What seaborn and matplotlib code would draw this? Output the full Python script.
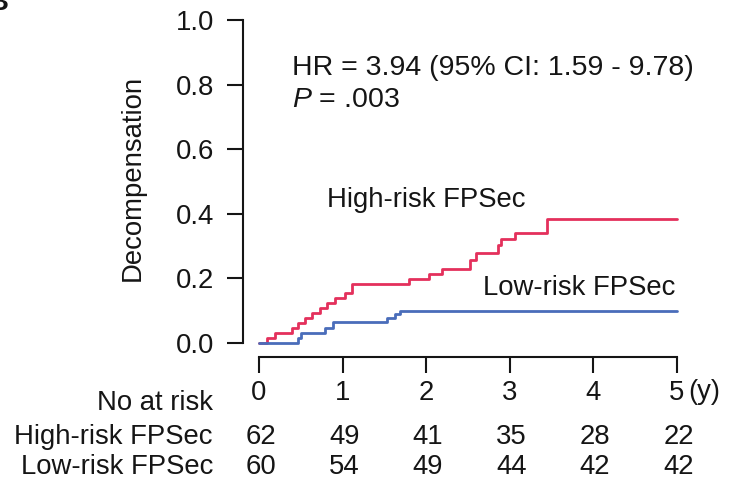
import numpy as np
import pandas as pd
import seaborn as sns
import matplotlib.pyplot as plt
from matplotlib import transforms

# cumulative decompensation (time in years)
high_t = [0, 0.09, 0.19, 0.39, 0.47, 0.55, 0.63, 0.73, 0.81, 0.91, 1.03, 1.11,
          1.79, 2.03, 2.19, 2.52, 2.60, 2.86, 2.90, 3.06, 3.44, 5.0]
high_v = [0, 0.015, 0.030, 0.045, 0.063, 0.076, 0.094, 0.107, 0.125, 0.138, 0.154, 0.183,
          0.199, 0.214, 0.230, 0.258, 0.280, 0.303, 0.321, 0.340, 0.383, 0.383]
low_t = [0, 0.47, 0.50, 0.79, 0.89, 1.53, 1.63, 1.69, 5.0]
low_v = [0, 0.016, 0.030, 0.045, 0.066, 0.078, 0.090, 0.100, 0.100]

groups = ["High-risk FPSec", "Low-risk FPSec"]
colors = ["#E4305C", "#4A6DBA"]

# number at risk table
years = [0, 1, 2, 3, 4, 5]
risk_high = [62, 49, 41, 35, 28, 22]
risk_low = [60, 54, 49, 44, 42, 42]

yticks = [0.0, 0.2, 0.4, 0.6, 0.8, 1.0]

df = pd.concat([
    pd.DataFrame({"time": high_t, "value": high_v, "group": groups[0]}),
    pd.DataFrame({"time": low_t, "value": low_v, "group": groups[1]}),
], ignore_index=True)

sns.set_theme(style="ticks")
plt.rcParams["font.family"] = ["Liberation Sans", "DejaVu Sans"]
plt.rcParams["mathtext.fontset"] = "custom"
plt.rcParams["mathtext.it"] = "Liberation Sans:italic"
plt.rcParams["mathtext.rm"] = "Liberation Sans"
fs = 19.8
ink = "#151515"

fig = plt.figure(figsize=(7.4, 4.88), dpi=100)
ax = fig.add_axes([259 / 740, 145 / 488, 418 / 740, 323 / 488])

sns.lineplot(data=df, x="time", y="value", hue="group", hue_order=groups,
             palette=dict(zip(groups, colors)), estimator=None, sort=False,
             drawstyle="steps-post", linewidth=2.0, legend=False, ax=ax)
for line in ax.lines:
    line.set_clip_on(False)

ax.set_xlim(0, 5)
ax.set_ylim(0, 1)
sns.despine(ax=ax, offset=dict(left=11.5, bottom=10))
ax.spines["left"].set_bounds(0, 1)
ax.spines["bottom"].set_bounds(0, 5)
for s in ["left", "bottom"]:
    ax.spines[s].set_linewidth(1.5)
    ax.spines[s].set_color(ink)

ax.set_yticks(yticks)
ax.set_yticklabels([f"{v:.1f}" for v in yticks])
ax.set_xticks(years)
ax.set_xticklabels([str(y) for y in years])
ax.tick_params(axis="both", length=11.5, width=1.5, color=ink, labelcolor=ink,
               labelsize=fs)
ax.tick_params(axis="y", pad=9)
ax.tick_params(axis="x", pad=5)
ax.set_xlabel("")
ax.set_ylabel("")
ax.annotate("(y)", xy=(5, 0), xycoords=("data", "axes fraction"),
            xytext=(8, -26), textcoords="offset points", ha="left", va="top",
            fontsize=fs, color=ink)

fig.text(133 / 740, 1 - 178 / 488, "Decompensation", rotation=90,
         ha="center", va="center", fontsize=fs, color=ink)

ax.text(0.39, 0.830, "HR = 3.94 (95% CI: 1.59 - 9.78)", fontsize=20.5, color=ink,
        va="baseline")
ax.text(0.39, 0.732, "$P$ = .003", fontsize=20.5, color=ink, va="baseline")
ax.text(0.81, 0.422, groups[0], fontsize=fs, color=ink, va="baseline")
ax.text(4.98, 0.149, groups[1], fontsize=fs, color=ink, va="baseline", ha="right")

# at-risk table under the axis
trans = transforms.blended_transform_factory(ax.transData, fig.transFigure)
row_x = 213 / 740
fig.text(row_x, 1 - 410 / 488, "No at risk", ha="right", va="baseline",
         fontsize=fs, color=ink)
for label, counts, yb in [(groups[0], risk_high, 444), (groups[1], risk_low, 474)]:
    fig.text(row_x, 1 - yb / 488, label, ha="right", va="baseline",
             fontsize=fs, color=ink)
    for yr, n in zip(years, counts):
        ax.text(yr + 0.02, 1 - yb / 488, str(n), transform=trans, ha="center",
                va="baseline", fontsize=fs, color=ink, clip_on=False)

# clipped panel letter in the corner
fig.text(-12 / 740, 1 - 10 / 488, "B", fontsize=fs, fontweight="bold",
         color=ink, ha="left", va="baseline")

fig.savefig("out.png", dpi=100)
